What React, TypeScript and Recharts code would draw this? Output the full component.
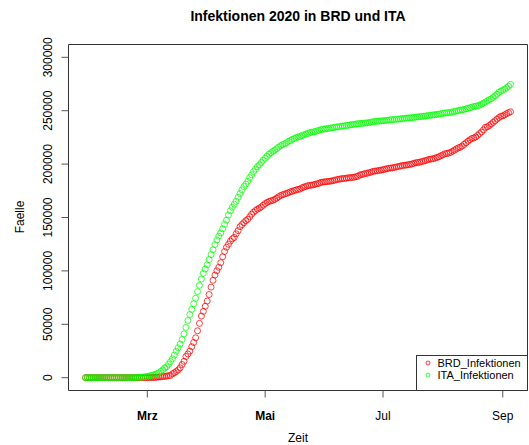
import { ScatterChart, Scatter, XAxis, YAxis, ReferenceArea } from "recharts"

// daily cumulative cases, 29 Jan 2020 .. 5 Sep 2020 (one value per day)
const firstDay = "2020-01-29"

const brdInfektionen = [
  // Jan 29-31
  4, 4, 4,
  // Feb
  5, 8, 10, 12, 12, 12, 12, 13, 13, 14, 14, 16,
  16, 16, 16, 16, 16, 16, 16, 16, 16, 16, 16, 16, 16,
  17, 27, 46, 48,
  // Mar
  79, 130, 159, 196, 262, 482, 670, 799, 1040, 1176,
  1457, 1908, 2078, 3675, 4585, 5795, 7272, 9257, 12327, 15320,
  19848, 22213, 24873, 29056, 32986, 37323, 43938, 50871, 57695, 62095,
  66885,
  // Apr
  71808, 77872, 84794, 91159, 96092, 100123, 103374, 107663, 113296, 118181,
  122171, 124908, 127854, 130072, 131359, 134753, 137698, 141397, 143342, 145184,
  147065, 148291, 150648, 153129, 154999, 156513, 157770, 158758, 159912, 161539,
  // May
  163009, 164077, 164967, 165664, 166152, 167007, 168162, 169430, 170588, 171324,
  171879, 172576, 173171, 174098, 174478, 175233, 175752, 176369, 176551, 177778,
  178473, 179021, 179710, 179986, 180328, 180600, 181200, 181524, 182196, 182922,
  183189,
  // Jun
  183410, 183594, 183879, 184121, 184472, 184924, 185450, 185750, 186109, 186506,
  186522, 186691, 187226, 187267, 187518, 187682, 188252, 188604, 189817, 190299,
  190670, 191272, 191449, 192079, 192556, 193243, 193499, 193761, 194036, 194458,
  // Jul
  194693, 195228, 195674, 196096, 196335, 196554, 196944, 197341, 197783, 198178,
  198556, 198963, 199024, 199413, 199775, 200180, 200759, 201252, 201574, 201823,
  202345, 202799, 203325, 203879, 204460, 204777, 205024, 205650, 206270, 206926,
  207860,
  // Aug
  208652, 209669, 209893, 210402, 211005, 212022, 213067, 214214, 215210, 215891,
  216903, 218519, 219964, 221413, 222828, 224014, 224488, 225404, 226914, 228621,
  230048, 232082, 234494, 234853, 236122, 237583, 239010, 240571, 242126, 243599,
  244802,
  // Sep 1-5
  245158, 246166, 247255, 248182, 248997,
]

const itaInfektionen = [
  // Jan 29-31
  0, 0, 0,
  // Feb
  2, 2, 2, 2, 2, 2, 2,
  3, 3, 3, 3, 3, 3, 3, 3, 3, 3, 3, 3, 3, 3,
  20, 62, 155, 229, 322, 453, 655, 888,
  // Mar
  1128, 1694, 2036, 2502, 3089, 3858, 4636, 5883, 7375, 9172,
  10149, 12462, 15113, 17660, 21157, 24747, 27980, 31506, 35713, 41035,
  47021, 53578, 59138, 63927, 69176, 74386, 80589, 86498, 92472, 97689,
  101739,
  // Apr
  105792, 110574, 115242, 119827, 124632, 128948, 132547, 135586, 139422, 143626,
  147577, 152271, 156363, 159516, 162488, 165155, 168941, 172434, 175925, 178972,
  181228, 183957, 187327, 189973, 192994, 195351, 197675, 199414, 201505, 203591,
  // May
  205463, 207428, 209328, 210717, 211938, 213013, 214457, 215858, 217185, 218268,
  219070, 219814, 221216, 222104, 223096, 223885, 224760, 225435, 225886, 226699,
  227364, 228006, 228658, 229327, 229858, 230158, 230555, 231139, 231732, 232248,
  232664,
  // Jun
  232997, 233197, 233515, 233836, 234013, 234531, 234801, 234998, 235278, 235561,
  235763, 236142, 236305, 236651, 236989, 237290, 237500, 237828, 238159, 238011,
  238275, 238499, 238720, 238833, 239410, 239706, 239961, 240136, 240310, 240436,
  // Jul
  240578, 240760, 240961, 241184, 241419, 241611, 241819, 241956, 242149, 242363,
  242639, 242827, 243061, 243230, 243344, 243506, 243736, 243967, 244216, 244434,
  244624, 244752, 245032, 245338, 245590, 245864, 246118, 246286, 246488, 246776,
  247158,
  // Aug
  247537, 247832, 248070, 248229, 248419, 248803, 249204, 249756, 250103, 250566,
  250825, 251237, 251713, 252235, 252809, 253438, 253915, 254235, 254636, 255278,
  256118, 257065, 258136, 259345, 260298, 261174, 262540, 263949, 265409, 267273,
  268218,
  // Sep 1-5
  269214, 270189, 271515, 272912, 274644,
]

// x ticks: days after firstDay (1 Mar, 1 May, 1 Jul, 1 Sep)
const monthTicks = [32, 93, 154, 216]
const monthLabels = ["Mrz", "Mai", "Jul", "Sep"]
const boldMonths = ["Mrz", "Mai"]

const yTicks = [0, 50000, 100000, 150000, 200000, 250000, 300000]

const seriesNames = ["BRD_Infektionen", "ITA_Infektionen"]
const seriesColors = ["#ff0000", "#00ff00"]

const FONT = "'Liberation Sans', Arial, sans-serif"

// R style axis limits: data range padded by 4 %
const lastDay = brdInfektionen.length - 1
const xDomain = [-0.04 * lastDay, lastDay * 1.04]
const yDomain = [-0.04 * 300000, 300000 * 1.04]

const brdData = brdInfektionen.map((v, i) => ({ tag: i, faelle: v }))
const itaData = itaInfektionen.map((v, i) => ({ tag: i, faelle: v }))

const ring = (color: string) => (props: any) => (
  <circle cx={props.cx} cy={props.cy} r={3} fill="none" stroke={color} strokeWidth={0.75} />
)

function MonthTick(props: any) {
  const { x, y, payload } = props
  const label = monthLabels[monthTicks.indexOf(payload.value)]
  return (
    <text
      x={x}
      y={y + 20}
      textAnchor="middle"
      fontSize={12}
      fontFamily={FONT}
      fontWeight={boldMonths.includes(label) ? "bold" : "normal"}
      fill="#000"
    >
      {label}
    </text>
  )
}

function CountTick(props: any) {
  const { y, payload } = props
  return (
    <text
      transform={`translate(48, ${y}) rotate(-90)`}
      dy="0.35em"
      textAnchor="middle"
      fontSize={12}
      fontFamily={FONT}
      fill="#000"
    >
      {payload.value}
    </text>
  )
}

export default function App() {
  return (
    <div style={{ position: "absolute", left: 0, top: 0, width: 529, height: 445, background: "#fff" }}>
      <ScatterChart
        width={529}
        height={445}
        margin={{ top: 44.5, right: 1.5, bottom: 0, left: 0 }}
      >
        <XAxis
          dataKey="tag"
          type="number"
          domain={xDomain}
          ticks={monthTicks}
          tick={<MonthTick />}
          tickSize={7}
          tickLine={{ stroke: "#555" }}
          axisLine={false}
          height={54.5}
          allowDataOverflow
        />
        <YAxis
          dataKey="faelle"
          type="number"
          domain={yDomain}
          ticks={yTicks}
          tick={<CountTick />}
          tickSize={7}
          tickLine={{ stroke: "#555" }}
          axisLine={false}
          width={68.5}
          allowDataOverflow
        />
        <ReferenceArea
          x1={xDomain[0]}
          x2={xDomain[1]}
          y1={yDomain[0]}
          y2={yDomain[1]}
          fill="none"
          stroke="#333"
          strokeWidth={1}
          ifOverflow="visible"
        />
        <Scatter
          name={seriesNames[0]}
          data={brdData}
          shape={ring(seriesColors[0])}
          isAnimationActive={false}
        />
        <Scatter
          name={seriesNames[1]}
          data={itaData}
          shape={ring(seriesColors[1])}
          isAnimationActive={false}
        />
      </ScatterChart>

      <svg
        width={529}
        height={445}
        style={{ position: "absolute", left: 0, top: 0, pointerEvents: "none" }}
        fontFamily={FONT}
      >
        <text x={298} y={21} textAnchor="middle" fontSize={14} fontWeight="bold" fill="#000">
          Infektionen 2020 in BRD und ITA
        </text>
        <text x={298} y={442} textAnchor="middle" fontSize={12} fill="#000">
          Zeit
        </text>
        <text
          transform="translate(20, 217) rotate(-90)"
          dy="0.35em"
          textAnchor="middle"
          fontSize={12}
          fill="#000"
        >
          Faelle
        </text>

        <rect x={416.5} y={355.5} width={111} height={35} fill="#fff" stroke="#333" strokeWidth={1} />
        {seriesNames.map((name, i) => (
          <g key={name}>
            <circle cx={428} cy={363 + i * 12} r={2} fill="none" stroke={seriesColors[i]} strokeWidth={0.75} />
            <text x={437.5} y={367 + i * 12} fontSize={11} fill="#000">
              {name}
            </text>
          </g>
        ))}
      </svg>
    </div>
  )
}
